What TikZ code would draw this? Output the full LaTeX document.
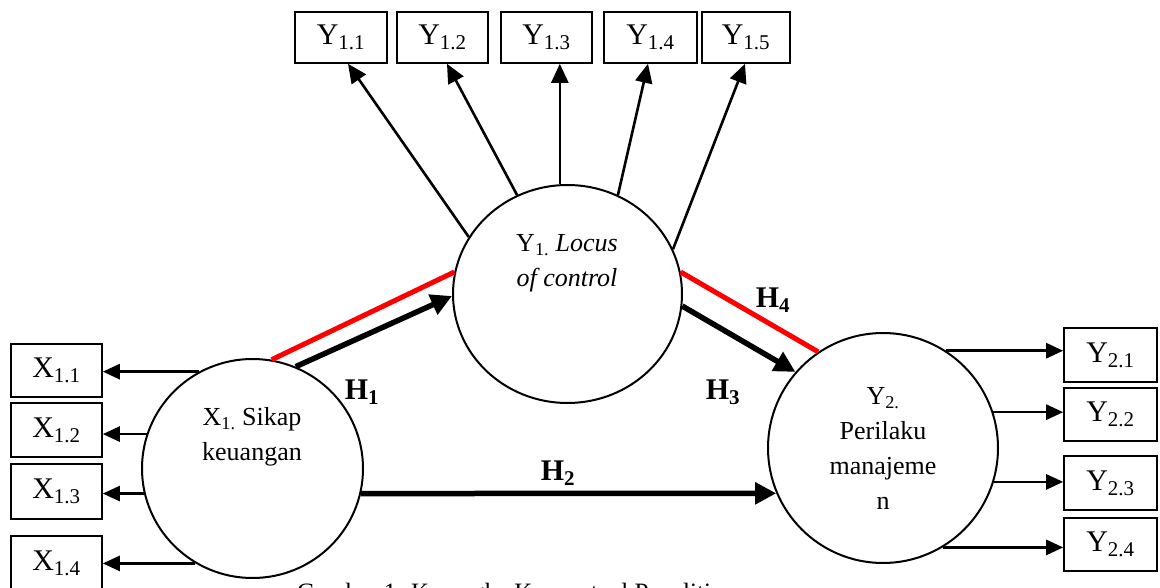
\documentclass[tikz,border=0pt]{standalone}
\usepackage{fontspec}
\setmainfont{Liberation Serif}
\usetikzlibrary{arrows.meta,shapes.geometric}
\begin{document}
\begin{tikzpicture}[x=1pt,y=-1pt,
  box/.style={draw,line width=1.6pt,rectangle,inner sep=0pt,minimum width=92pt,minimum height=54pt,font=\fontsize{30}{36}\selectfont},
  latent/.style={draw,line width=2pt,ellipse,inner sep=0pt},
  ctext/.style={align=center,font=\fontsize{26}{35}\selectfont,inner sep=0pt},
  thinarrow/.style={line width=2.6pt,-{Triangle[length=19pt,width=17pt]}},
  sidearrow/.style={line width=2.6pt,-{Triangle[length=17pt,width=15pt]}},
  hyp/.style={line width=5.5pt,-{Triangle[length=21pt,width=21pt]}},
  redline/.style={line width=5pt,draw=red},
  hlabel/.style={font=\fontsize{30}{36}\selectfont\bfseries,inner sep=0pt}
]
\useasboundingbox (0,0) rectangle (1160,588);
\clip (0,0) rectangle (1160,588);

% latent variables
\node[latent,minimum width=221pt,minimum height=219pt] (X1) at (252.5,468.5) {};
\node[latent,minimum width=229pt,minimum height=218pt] (Y1) at (567.5,294) {};
\node[latent,minimum width=230pt,minimum height=230pt] (Y2) at (883,448) {};

\node[ctext] (X1t) at (252,437) {X\textsubscript{1.} Sikap\\keuangan};
\node[ctext,align=center] (Y1t) at (567,263.5) {Y\textsubscript{1.} \textit{Locus}\\\textit{of control}};
\node[ctext] (Y2t) at (883,448.5) {Y\textsubscript{2.}\\Perilaku\\manajeme\\n};

% indicator boxes
\node[box,minimum width=91pt,minimum height=53pt] (X11) at (56.5,370.5) {X\textsubscript{1.1}};
\node[box,minimum width=91pt,minimum height=54pt] (X12) at (56.5,430) {X\textsubscript{1.2}};
\node[box,minimum width=91pt,minimum height=55pt] (X13) at (56.5,491.5) {X\textsubscript{1.3}};
\node[box,minimum width=91pt,minimum height=54pt] (X14) at (56.5,563) {X\textsubscript{1.4}};

\node[box,minimum width=92pt,minimum height=51pt] (Y11) at (341,37.5) {Y\textsubscript{1.1}};
\node[box,minimum width=91pt,minimum height=51pt] (Y12) at (442.5,37.5) {Y\textsubscript{1.2}};
\node[box,minimum width=91pt,minimum height=51pt] (Y13) at (546.5,37.5) {Y\textsubscript{1.3}};
\node[box,minimum width=93pt,minimum height=51pt] (Y14) at (650.5,37.5) {Y\textsubscript{1.4}};
\node[box,minimum width=88pt,minimum height=51pt] (Y15) at (746,37.5) {Y\textsubscript{1.5}};

\node[box,minimum width=93pt,minimum height=54pt] (Y21) at (1110.5,355) {Y\textsubscript{2.1}};
\node[box,minimum width=93pt,minimum height=53pt] (Y22) at (1110.5,414.5) {Y\textsubscript{2.2}};
\node[box,minimum width=93pt,minimum height=54pt] (Y23) at (1110.5,483) {Y\textsubscript{2.3}};
\node[box,minimum width=93pt,minimum height=53pt] (Y24) at (1110.5,544.5) {Y\textsubscript{2.4}};

% reflective arrows
\draw[sidearrow] (X1.119) -- (X1.119 -| X11.east);
\draw[sidearrow] (X1.162) -- (X1.162 -| X12.east);
\draw[sidearrow] (X1.193) -- (X1.193 -| X13.east);
\draw[sidearrow] (X1.239) -- (X1.239 -| X14.east);

\draw[thinarrow] (Y1.150) -- ([xshift=7pt]Y11.south);
\draw[thinarrow] (Y1.117) -- ([xshift=4.5pt]Y12.south);
\draw[thinarrow] (Y1.94) -- (Y1.94 |- Y13.south);
\draw[thinarrow] (Y1.63) -- ([xshift=-2.5pt]Y14.south);
\draw[thinarrow] (Y1.23) -- ([xshift=-1pt]Y15.south);

\draw[sidearrow] (Y2.57) -- (Y2.57 -| Y21.west);
\draw[sidearrow] (Y2.18) -- (Y2.18 -| Y22.west);
\draw[sidearrow] (Y2.343) -- (Y2.343 -| Y23.west);
\draw[sidearrow] (Y2.301) -- (Y2.301 -| Y24.west);

% hypotheses
\draw[redline] (X1.80) -- (Y1.169);
\draw[hyp] (X1.67) -- (Y1.181);
\draw[redline] (Y1.11) -- (Y2.124);
\draw[hyp] (Y1.354) -- (Y2.139);
\draw[hyp] (X1.347) -- (Y2.203);

\node[hlabel] (H1) at (362,392) {H\textsubscript{1}};
\node[hlabel] (H2) at (558,473) {H\textsubscript{2}};
\node[hlabel] (H3) at (723,392) {H\textsubscript{3}};
\node[hlabel] (H4) at (773,300) {H\textsubscript{4}};

\node[anchor=north west,inner sep=0pt,font=\fontsize{25}{30}\selectfont] (cap) at (297,583) {Gambar 1. Kerangka Konseptual Penelitian};
\end{tikzpicture}
\end{document}
